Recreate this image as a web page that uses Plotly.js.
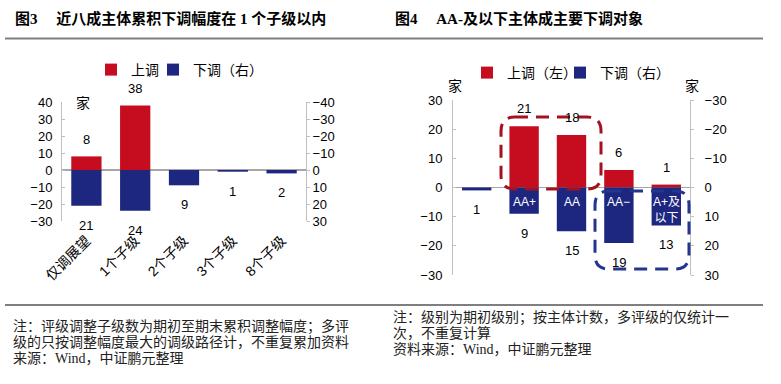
<!DOCTYPE html>
<html><head><meta charset="utf-8">
<script src="https://cdn.plot.ly/plotly-3.0.1.min.js"></script>
<style>html,body{margin:0;padding:0;background:#fff}#chart{width:781px;height:384px}</style>
</head><body><div id="chart"></div>
<script>
// ---------- Figure 3 data ----------
const cats3 = ['仅调展望', '1个子级', '2个子级', '3个子级', '8个子级'];
const up3 = [8, 38, 0, 0, 0];          // 上调 (left axis)
const down3 = [21, 24, 9, 1, 2];       // 下调 (right axis)
const ticksL3 = [-30, -20, -10, 0, 10, 20, 30, 40];
const ticksR3 = [-40, -30, -20, -10, 0, 10, 20, 30];
const name3Up = '上调';
const name3Down = '下调（右）';
const title3 = '<b>图3&nbsp;&nbsp;&nbsp;&nbsp;&nbsp;近八成主体累积下调幅度在&nbsp;1&nbsp;个子级以内</b>';
const notes3 = ['注：评级调整子级数为期初至期末累积调整幅度；多评',
                '级的只按调整幅度最大的调级路径计，不重复累加资料',
                '来源：Wind，中证鹏元整理'];

// ---------- Figure 4 data ----------
const cats4 = ['AAA', 'AA+', 'AA', 'AA−', 'A+及以下'];
const inBar4 = ['', 'AA+', 'AA', 'AA−', 'A+及<br>以下'];
const up4 = [0, 21, 18, 6, 1];         // 上调 (left axis)
const down4 = [1, 9, 15, 19, 13];      // 下调 (right axis)
const ticksL4 = [-30, -20, -10, 0, 10, 20, 30];
const ticksR4 = [-30, -20, -10, 0, 10, 20, 30];
const name4Up = '上调（左）';
const name4Down = '下调（右）';
const title4 = '<b>图4&nbsp;&nbsp;&nbsp;&nbsp;&nbsp;AA-及以下主体成主要下调对象</b>';
const notes4 = ['注：级别为期初级别；按主体计数，多评级的仅统计一',
                '次，不重复计算',
                '资料来源：Wind，中证鹏元整理'];
const unit = '家';

// ---------- styling ----------
const W = 781, H = 384;
const RED = '#C50D1F', BLUE = '#1D2780';
const AX = '#BFBFBF';
const SANS = 'Liberation Sans, Arial, Noto Sans CJK SC, sans-serif';
const CJK = 'Noto Sans CJK SC, sans-serif';
const SERIF = 'Liberation Serif, Noto Sans CJK SC, serif';
const px = v => v / W;
const py = v => 1 - v / H;

function yAxis(extra) {
  return Object.assign({
    showgrid: false, zeroline: false, showline: true, linecolor: AX, linewidth: 1,
    ticks: 'inside', ticklen: 3, tickcolor: AX, tickwidth: 1,
    tickfont: {family: SANS, size: 13, color: '#000'}, fixedrange: true
  }, extra);
}

const traces = [
  {type: 'bar', x: cats3, y: up3, name: name3Up, xaxis: 'x', yaxis: 'y', legend: 'legend',
   marker: {color: RED}, width: 0.62, showlegend: true},
  {type: 'bar', x: cats3, y: down3, name: name3Down, xaxis: 'x', yaxis: 'y2', legend: 'legend2',
   marker: {color: BLUE}, width: 0.62, showlegend: true},
  {type: 'bar', x: cats4, y: up4, name: name4Up, xaxis: 'x2', yaxis: 'y3', legend: 'legend3',
   marker: {color: RED}, width: 0.62, showlegend: true},
  {type: 'bar', x: cats4, y: down4, name: name4Down, xaxis: 'x2', yaxis: 'y4', legend: 'legend4',
   marker: {color: BLUE}, width: 0.62, showlegend: true}
];

const annotations = [];
function label(x, y, xref, yref, text, anchor, shift, font) {
  annotations.push({x: x, y: y, xref: xref, yref: yref, text: text, showarrow: false,
    yanchor: anchor, yshift: shift, font: font || {family: SANS, size: 13, color: '#000'}});
}
up3.forEach((v, i) => { if (v) label(cats3[i], v, 'x', 'y', String(v), 'bottom', 7); });
down3.forEach((v, i) => { if (v) label(cats3[i], v, 'x', 'y2', String(v), 'top', -10); });
up4.forEach((v, i) => { if (v) label(cats4[i], v, 'x2', 'y3', String(v), 'bottom', 8); });
down4.forEach((v, i) => { if (v) label(cats4[i], v, 'x2', 'y4', String(v), 'top', -10); });
inBar4.forEach((t, i) => { if (t) label(cats4[i], 0, 'x2', 'y4', t, 'top', -5,
  {family: SANS, size: 12, color: '#fff'}); });

function paperText(x, y, text, font, xanchor) {
  annotations.push({x: px(x), y: py(y), xref: 'paper', yref: 'paper', text: text,
    showarrow: false, xanchor: xanchor || 'left', yanchor: 'middle', font: font});
}
paperText(13, 19, title3, {family: SERIF, size: 15, color: '#000'});
paperText(393, 19, title4, {family: SERIF, size: 15, color: '#000'});
paperText(83, 102, unit, {family: CJK, size: 14, color: '#000'}, 'center');
paperText(455, 85, unit, {family: CJK, size: 14, color: '#000'}, 'center');
paperText(692, 85, unit, {family: CJK, size: 14, color: '#000'}, 'center');
const noteFont = {family: SERIF, size: 14, color: '#222'};
[326, 342, 358].forEach((y, i) => paperText(11, y, notes3[i], noteFont));
[317, 333, 349].forEach((y, i) => paperText(391, y, notes4[i], noteFont));

function roundRect(x0, y0, x1, y1, r) {
  // pixel box -> paper path with rounded corners
  const X = v => px(v).toFixed(5), Y = v => py(v).toFixed(5);
  return `M${X(x0 + r)},${Y(y0)} L${X(x1 - r)},${Y(y0)} Q${X(x1)},${Y(y0)} ${X(x1)},${Y(y0 + r)} ` +
         `L${X(x1)},${Y(y1 - r)} Q${X(x1)},${Y(y1)} ${X(x1 - r)},${Y(y1)} ` +
         `L${X(x0 + r)},${Y(y1)} Q${X(x0)},${Y(y1)} ${X(x0)},${Y(y1 - r)} ` +
         `L${X(x0)},${Y(y0 + r)} Q${X(x0)},${Y(y0)} ${X(x0 + r)},${Y(y0)} Z`;
}

const shapes = [
  {type: 'line', xref: 'paper', yref: 'paper', x0: px(5), x1: px(763), y0: py(38.5), y1: py(38.5),
   line: {color: '#7F7F7F', width: 2}},
  {type: 'line', xref: 'paper', yref: 'paper', x0: px(5), x1: px(763), y0: py(305), y1: py(305),
   line: {color: '#7F7F7F', width: 2}},
  {type: 'path', xref: 'paper', yref: 'paper', path: roundRect(501, 117, 601, 189, 14),
   line: {color: '#A3121F', width: 3, dash: '13px,8px'}, layer: 'above'},
  {type: 'path', xref: 'paper', yref: 'paper', path: roundRect(595, 191, 689, 269, 14),
   line: {color: '#24358F', width: 3, dash: '13px,8px'}, layer: 'above'}
];

const legendBase = {orientation: 'h', xanchor: 'left', yanchor: 'middle', bgcolor: 'rgba(0,0,0,0)',
  font: {family: CJK, size: 14, color: '#000'}, itemwidth: 30, traceorder: 'normal',
  itemclick: false, itemdoubleclick: false, visible: true};
const leg = (x, y) => Object.assign({}, legendBase, {x: px(x), y: py(y)});

const layout = {
  width: W, height: H, margin: {l: 0, r: 0, t: 0, b: 0},
  paper_bgcolor: '#fff', plot_bgcolor: 'rgba(0,0,0,0)',
  barmode: 'overlay', hovermode: false, showlegend: true,
  xaxis: {domain: [px(62), px(306)], anchor: 'y', type: 'category', range: [-0.5, 4.5],
    showgrid: false, showline: false, zeroline: false, ticks: '', tickangle: -45,
    ticklabelstandoff: 8,
    tickfont: {family: SANS, size: 14, color: '#000'}, fixedrange: true},
  yaxis: yAxis({domain: [py(221), py(102)], anchor: 'x', range: [-30, 40], tickvals: ticksL3,
    zeroline: true, zerolinecolor: '#A6A6A6', zerolinewidth: 1.5, ticklabelstandoff: 6}),
  yaxis2: yAxis({overlaying: 'y', side: 'right', anchor: 'x', range: [30, -40], tickvals: ticksR3,
    ticks: 'outside', ticklabelstandoff: 0}),
  xaxis2: {domain: [px(453), px(690)], anchor: 'y3', type: 'category', range: [-0.5, 4.5],
    showgrid: false, showline: false, zeroline: false, ticks: '', showticklabels: false, fixedrange: true},
  yaxis3: yAxis({domain: [py(275), py(100)], anchor: 'x2', range: [-30, 30], tickvals: ticksL4,
    zeroline: true, zerolinecolor: '#A6A6A6', zerolinewidth: 1.5, ticklabelstandoff: 7}),
  yaxis4: yAxis({overlaying: 'y3', side: 'right', anchor: 'x2', range: [30, -30], tickvals: ticksR4,
    ticks: 'outside', ticklabelstandoff: 8}),
  legend: leg(91, 70),
  legend2: leg(153, 70),
  legend3: leg(467, 73),
  legend4: leg(560, 73),
  annotations: annotations,
  shapes: shapes
};

Plotly.newPlot('chart', traces, layout, {staticPlot: true, displayModeBar: false});
</script>
</body></html>
